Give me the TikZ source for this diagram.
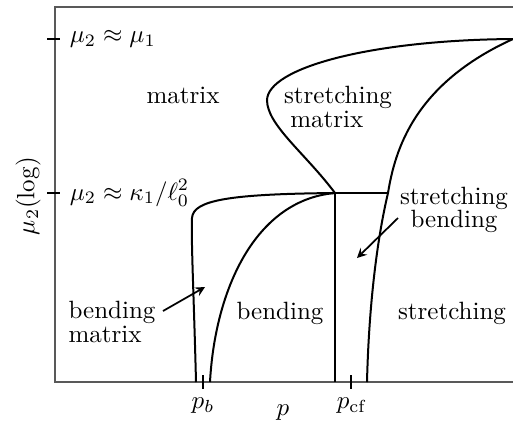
\documentclass[tikz,border=0pt]{standalone}
\begin{document}
\begin{tikzpicture}[>=stealth, x=0.4pt, y=-0.4pt,
  curve/.style={line width=0.8pt},
  frame/.style={draw=black!65, line width=0.7pt},
  tick/.style={line width=0.7pt},
  region/.style={font=\fontsize{10}{9.3}\selectfont, inner sep=0pt}]
\useasboundingbox (0,0) rectangle (513,423);
% axes
\draw[frame] (513,7) -- (55,7) -- (55,382) -- (513,382);
\draw[tick] (47,39) -- (60,39);
\draw[tick] (47,193) -- (60,193);
\draw[tick] (203,375) -- (203,389);
\draw[tick] (351,375) -- (351,389);
\node[anchor=west] (mu1) at (61,39) {$\mu_2\approx\mu_1$};
\node[anchor=west] (mu2) at (61,193) {$\mu_2\approx\kappa_1/\ell_0^2$};
\node[rotate=90] (ylab) at (28,196) {$\mu_2(\log)$};
\node (pb) at (203,406) {$p_b$};
\node (p) at (283,413) {$p$};
\node (pcf) at (352,406) {$p_{\mathrm{cf}}$};
% phase boundaries
\coordinate (T) at (335,193);
\coordinate (R) at (513,39);
\draw[curve] (T) .. controls (305,153) and (267,125) .. (267,100)
  .. controls (268,68) and (370,40) .. (R);
\draw[curve] (367,382) .. controls (369,300) and (378,235) .. (388,193)
  .. controls (395,150) and (414,84) .. (R);
\draw[curve] (T) -- (388,193);
\draw[curve] (T) -- (335,382);
\draw[curve] (196,382) .. controls (194,300) and (191,240) .. (192,218)
  .. controls (193,200) and (230,194) .. (T);
\draw[curve] (210,382) .. controls (215,290) and (255,200) .. (T);
% regions
\node[region] (mat) at (183,95) {matrix};
\node[region, align=left] (smat) at (338,107) {stretching\\\hspace{2.5pt}matrix};
\node[region, align=center] (sbend) at (454,210) {stretching\\bending};
\node[region, align=left] (bmat) at (112,322) {bending\\matrix};
\node[region] (bend) at (280,313) {bending};
\node[region] (str) at (452,313) {stretching};
\coordinate (bmfrom) at (163,311);
\coordinate (bmto) at (205,287);
\coordinate (sbfrom) at (398,218);
\coordinate (sbto) at (357,258);
\draw[->, line width=0.7pt] (bmfrom) -- (bmto);
\draw[->, line width=0.7pt] (sbfrom) -- (sbto);
\end{tikzpicture}
\end{document}
